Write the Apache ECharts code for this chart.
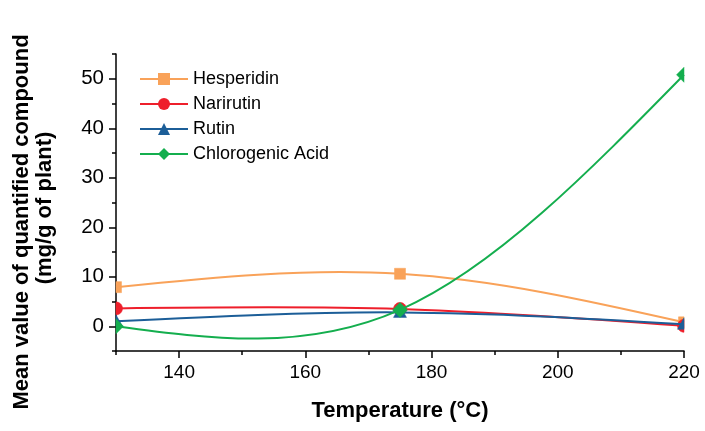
<!DOCTYPE html>
<html><head><meta charset="utf-8">
<script src="https://cdn.jsdelivr.net/npm/echarts@6/dist/echarts.min.js"></script>
<style>html,body{margin:0;padding:0;background:#fff}#c{width:705px;height:431px}</style>
</head><body><div id="c"></div>
<script>
// ---- data ----
const temperatures = [130, 175, 220];
const hesperidin = [7.9, 10.6, 0.8];
const narirutin = [3.6, 3.5, 0.1];
const rutin = [1.0, 2.8, 0.4];
const chlorogenicAcid = [0.0, 3.3, 50.8];
const seriesNames = ['Hesperidin', 'Narirutin', 'Rutin', 'Chlorogenic Acid'];
const xMajorTicks = [140, 160, 180, 200, 220];
const xMinorTicks = [130, 150, 170, 190, 210];
const yMajorTicks = [0, 10, 20, 30, 40, 50];
const yMinorTicks = [-5, 5, 15, 25, 35, 45, 55];

const colors = ['#F9A259', '#EE1F2B', '#1C5E98', '#14AE4E'];
const symbols = ['rect', 'circle', 'triangle', 'diamond'];
const valueSets = [hesperidin, narirutin, rutin, chlorogenicAcid];
const FONT = '"Liberation Sans", Arial, sans-serif';

// natural cubic spline through pixel points, returned as bezier path
function splinePath(pts) {
  const n = pts.length, h = [], M = new Array(n).fill(0);
  for (let i = 0; i < n - 1; i++) h.push(pts[i + 1][0] - pts[i][0]);
  if (n > 2) {
    const a = [], b = [], c = [], d = [];
    for (let i = 1; i < n - 1; i++) {
      a.push(h[i - 1]); b.push(2 * (h[i - 1] + h[i])); c.push(h[i]);
      d.push(6 * ((pts[i + 1][1] - pts[i][1]) / h[i] - (pts[i][1] - pts[i - 1][1]) / h[i - 1]));
    }
    const m = b.length;
    for (let i = 1; i < m; i++) { const w = a[i] / b[i - 1]; b[i] -= w * c[i - 1]; d[i] -= w * d[i - 1]; }
    const sol = new Array(m);
    sol[m - 1] = d[m - 1] / b[m - 1];
    for (let i = m - 2; i >= 0; i--) sol[i] = (d[i] - c[i] * sol[i + 1]) / b[i];
    for (let i = 0; i < m; i++) M[i + 1] = sol[i];
  }
  let p = 'M' + pts[0][0] + ' ' + pts[0][1];
  for (let i = 0; i < n - 1; i++) {
    const hh = h[i], dy = (pts[i + 1][1] - pts[i][1]) / hh;
    const d0 = dy - hh * (2 * M[i] + M[i + 1]) / 6;
    const d1 = dy + hh * (M[i] + 2 * M[i + 1]) / 6;
    p += ' C' + (pts[i][0] + hh / 3) + ' ' + (pts[i][1] + d0 * hh / 3) + ' ' +
      (pts[i + 1][0] - hh / 3) + ' ' + (pts[i + 1][1] - d1 * hh / 3) + ' ' +
      pts[i + 1][0] + ' ' + pts[i + 1][1];
  }
  return p;
}

// clip a polygon to the plot rectangle (Sutherland-Hodgman)
function clipPoly(poly, r) {
  const edges = [
    [p => p[0] >= r.x, (a, b) => { const t = (r.x - a[0]) / (b[0] - a[0]); return [r.x, a[1] + t * (b[1] - a[1])]; }],
    [p => p[0] <= r.x + r.width, (a, b) => { const X = r.x + r.width, t = (X - a[0]) / (b[0] - a[0]); return [X, a[1] + t * (b[1] - a[1])]; }],
    [p => p[1] >= r.y, (a, b) => { const t = (r.y - a[1]) / (b[1] - a[1]); return [a[0] + t * (b[0] - a[0]), r.y]; }],
    [p => p[1] <= r.y + r.height, (a, b) => { const Y = r.y + r.height, t = (Y - a[1]) / (b[1] - a[1]); return [a[0] + t * (b[0] - a[0]), Y]; }]
  ];
  let out = poly;
  edges.forEach(([inside, inter]) => {
    const inp = out; out = [];
    for (let i = 0; i < inp.length; i++) {
      const cur = inp[i], prev = inp[(i + inp.length - 1) % inp.length];
      if (inside(cur)) { if (!inside(prev)) out.push(inter(prev, cur)); out.push(cur); }
      else if (inside(prev)) out.push(inter(prev, cur));
    }
  });
  return out;
}

function markerPoly(type, cx, cy) {
  if (type === 'rect') return [[cx - 5.5, cy - 5.5], [cx + 5.5, cy - 5.5], [cx + 5.5, cy + 5.5], [cx - 5.5, cy + 5.5]];
  if (type === 'circle') {
    const pts = [];
    for (let i = 0; i < 36; i++) { const a = i / 36 * Math.PI * 2; pts.push([cx + 6.5 * Math.cos(a), cy + 6.5 * Math.sin(a)]); }
    return pts;
  }
  if (type === 'triangle') return [[cx, cy - 6.5], [cx + 6.5, cy + 5], [cx - 6.5, cy + 5]];
  return [[cx, cy - 7.5], [cx + 7.5, cy], [cx, cy + 7.5], [cx - 7.5, cy]];
}

const series = [];
// legend-only line series
seriesNames.forEach((name, k) => {
  series.push({
    name: name, type: 'line', data: [], symbol: symbols[k], symbolSize: 12,
    itemStyle: { color: colors[k] }, lineStyle: { color: colors[k], width: 2 }
  });
});
// curves + markers
seriesNames.forEach((name, k) => {
  const data = temperatures.map((t, i) => [t, valueSets[k][i]]);
  series.push({
    name: '_' + name, type: 'custom', z: 3 + k,
    data: data, encode: { x: 0, y: 1 },
    renderItem: function (params, api) {
      const cs = params.coordSys;
      const children = [];
      if (params.dataIndex === 0) {
        const pts = data.map(d => api.coord(d));
        children.push({ type: 'path', shape: { pathData: splinePath(pts) },
          style: { fill: 'none', stroke: colors[k], lineWidth: 2 } });
      }
      const c = api.coord([api.value(0), api.value(1)]);
      const poly = clipPoly(markerPoly(symbols[k], c[0], c[1]), cs);
      if (poly.length > 2) {
        children.push({ type: 'polygon', shape: { points: poly },
          style: { fill: colors[k], stroke: colors[k], lineWidth: 0.5 } });
      }
      return { type: 'group', children: children };
    }
  });
});

const axisLineStyle = { color: '#000', width: 1.5 };
const option = {
  animation: false,
  backgroundColor: '#fff',
  grid: { left: 116, right: 21, top: 54, bottom: 80 },
  legend: {
    data: seriesNames, orient: 'vertical', left: 139, top: 70, padding: 0,
    itemWidth: 48, itemHeight: 15, itemGap: 7,
    textStyle: { fontSize: 18, fontFamily: FONT, color: '#000' }
  },
  xAxis: [
    { type: 'value', min: 130, max: 220, position: 'bottom',
      axisLine: { show: true, onZero: false, lineStyle: axisLineStyle },
      axisTick: { show: true, customValues: xMajorTicks, length: 7, lineStyle: axisLineStyle },
      axisLabel: { customValues: xMajorTicks, fontSize: 19, fontFamily: FONT, color: '#000', margin: 12 },
      splitLine: { show: false } },
    { type: 'value', min: 130, max: 220, position: 'bottom',
      axisLine: { show: false, onZero: false },
      axisTick: { show: true, customValues: xMinorTicks, length: 4, lineStyle: axisLineStyle },
      axisLabel: { show: false }, splitLine: { show: false } }
  ],
  yAxis: [
    { type: 'value', min: -5, max: 55, position: 'left',
      axisLine: { show: true, onZero: false, lineStyle: axisLineStyle },
      axisTick: { show: true, customValues: yMajorTicks, length: 7, lineStyle: axisLineStyle },
      axisLabel: { customValues: yMajorTicks, fontSize: 20.5, fontFamily: FONT, color: '#000', margin: 12 },
      splitLine: { show: false } },
    { type: 'value', min: -5, max: 55, position: 'left',
      axisLine: { show: false, onZero: false },
      axisTick: { show: true, customValues: yMinorTicks, length: 4, lineStyle: axisLineStyle },
      axisLabel: { show: false }, splitLine: { show: false } }
  ],
  graphic: [
    { type: 'text', x: 400, y: 411, style: { text: 'Temperature (°C)', fontSize: 22, fontWeight: 'bold', fontFamily: FONT, fill: '#000', align: 'center', verticalAlign: 'middle' } },
    { type: 'text', x: 22, y: 222, rotation: Math.PI / 2, style: { text: 'Mean value of quantified compound', fontSize: 22, fontWeight: 'bold', fontFamily: FONT, fill: '#000', align: 'center', verticalAlign: 'middle' } },
    { type: 'text', x: 45, y: 208, rotation: Math.PI / 2, style: { text: '(mg/g of plant)', fontSize: 22, fontWeight: 'bold', fontFamily: FONT, fill: '#000', align: 'center', verticalAlign: 'middle' } }
  ],
  series: series
};
const chart = echarts.init(document.getElementById('c'), null, { renderer: 'canvas' });
chart.setOption(option);
</script>
</body></html>
